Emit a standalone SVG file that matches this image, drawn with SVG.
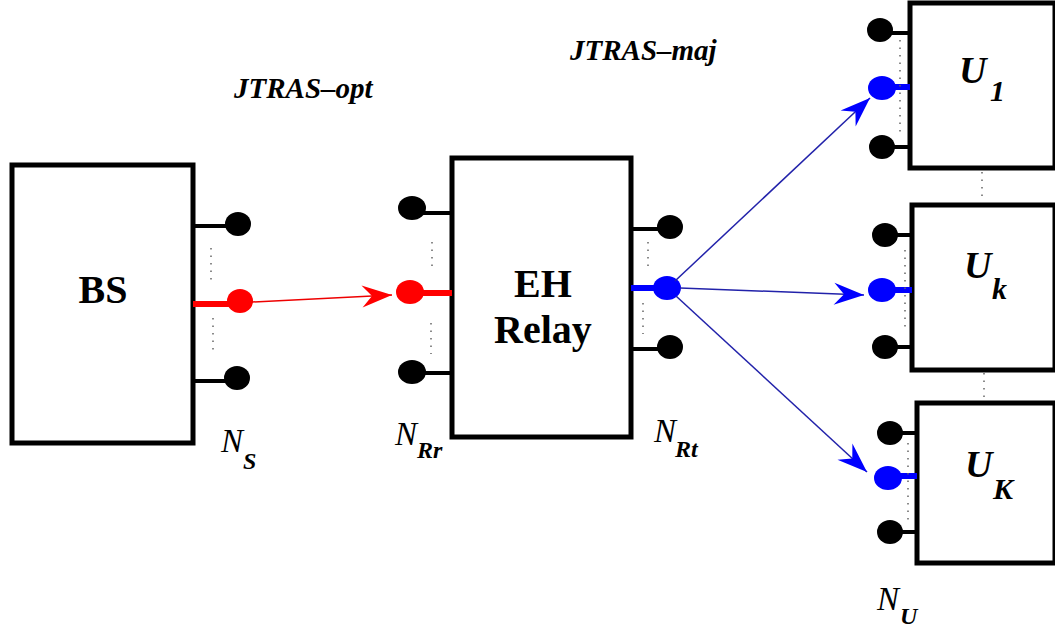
<svg xmlns="http://www.w3.org/2000/svg" width="1055" height="634" viewBox="0 0 1055 634" font-family="Liberation Serif, DejaVu Serif, serif">
<style>
.box{fill:#fff;stroke:#000;stroke-width:5}
.stub{stroke:#000;stroke-width:4}
.dot{fill:#000}
.red{fill:#f00}
.blue{fill:#00f}
.rstub{stroke:#f00;stroke-width:6}
.bstub{stroke:#00f;stroke-width:6}
.dots{stroke:#666;stroke-width:1.5;stroke-dasharray:1.5 6;fill:none}
.title{font-weight:bold;font-size:40px;text-anchor:middle}
.lbl{font-style:italic;font-weight:bold;font-size:29px}
.n{font-style:italic;font-size:33px}
.nsub{font-style:italic;font-weight:bold;font-size:24px}
.u{font-style:italic;font-weight:bold;font-size:38px}
.usub{font-style:italic;font-weight:bold;font-size:30px}
</style>
<defs>
<marker id="ar" markerUnits="userSpaceOnUse" markerWidth="34" markerHeight="26" viewBox="-32 -13 34 26" refX="0" refY="0" orient="auto">
<path d="M0,0 L-30,-11 L-20,0 L-30,11 Z" fill="#f00"/>
</marker>
<marker id="ab" markerUnits="userSpaceOnUse" markerWidth="34" markerHeight="26" viewBox="-32 -13 34 26" refX="0" refY="0" orient="auto">
<path d="M0,0 L-30,-11 L-20,0 L-30,11 Z" fill="#00f"/>
</marker>
</defs>

<g id="bs">
<rect class="box" x="12" y="165" width="181" height="278"/>
<text class="title" x="103" y="303" font-family="Liberation Serif">BS</text>
<line class="stub" x1="193" y1="226" x2="232" y2="226"/>
<ellipse class="dot" cx="238" cy="224" rx="13" ry="12"/>
<line class="rstub" x1="193" y1="304" x2="232" y2="304"/>
<ellipse class="red" cx="240" cy="301" rx="13" ry="12"/>
<line class="stub" x1="193" y1="381" x2="232" y2="381"/>
<ellipse class="dot" cx="237" cy="378" rx="13" ry="12"/>
<line class="dots" x1="211" y1="248" x2="211" y2="282"/>
<line class="dots" x1="213" y1="318" x2="213" y2="354"/>
<text class="n" x="221" y="452">N</text><text class="nsub" x="243" y="469">S</text>
</g>

<g id="relay">
<rect class="box" x="452" y="158" width="179" height="279"/>
<text class="title" x="543" y="297">EH</text>
<text class="title" x="543" y="343">Relay</text>
<line class="stub" x1="412" y1="213" x2="452" y2="213"/>
<ellipse class="dot" cx="412" cy="208" rx="14" ry="12"/>
<line class="rstub" x1="412" y1="293" x2="452" y2="293"/>
<ellipse class="red" cx="410" cy="292" rx="14" ry="12"/>
<line class="stub" x1="412" y1="373" x2="452" y2="373"/>
<ellipse class="dot" cx="412" cy="372" rx="14" ry="12"/>
<line class="dots" x1="432" y1="242" x2="432" y2="270"/>
<line class="dots" x1="431" y1="323" x2="431" y2="354"/>
<line class="stub" x1="631" y1="229" x2="665" y2="229"/>
<ellipse class="dot" cx="670" cy="227" rx="13" ry="12"/>
<line class="bstub" x1="631" y1="288" x2="662" y2="288"/>
<ellipse class="blue" cx="667" cy="288" rx="14" ry="12"/>
<line class="stub" x1="631" y1="349" x2="665" y2="349"/>
<ellipse class="dot" cx="670" cy="347" rx="13" ry="12"/>
<line class="dots" x1="648" y1="242" x2="648" y2="270"/>
<line class="dots" x1="643" y1="303" x2="643" y2="334"/>
<text class="n" x="395" y="445">N</text><text class="nsub" x="417" y="458">Rr</text>
<text class="n" x="654" y="442">N</text><text class="nsub" x="675" y="457">Rt</text>
</g>

<g id="u1">
<rect class="box" x="910" y="3" width="145" height="165"/>
<text class="u" x="959" y="83">U</text><text class="usub" x="990" y="101">1</text>
<line class="stub" x1="885" y1="33" x2="910" y2="33"/>
<ellipse class="dot" cx="880" cy="30" rx="13" ry="12"/>
<line class="bstub" x1="885" y1="87" x2="910" y2="87"/>
<ellipse class="blue" cx="882" cy="88" rx="14" ry="12"/>
<line class="stub" x1="885" y1="147" x2="910" y2="147"/>
<ellipse class="dot" cx="882" cy="147" rx="13" ry="12"/>
<line class="dots" x1="900" y1="40" x2="900" y2="132"/>
</g>

<line class="dots" x1="982" y1="172" x2="982" y2="202"/>

<g id="uk">
<rect class="box" x="912" y="205" width="143" height="165"/>
<text class="u" x="964" y="278">U</text><text class="usub" x="992" y="299">k</text>
<line class="stub" x1="888" y1="235" x2="912" y2="235"/>
<ellipse class="dot" cx="885" cy="235" rx="13" ry="12"/>
<line class="bstub" x1="886" y1="290" x2="912" y2="290"/>
<ellipse class="blue" cx="882" cy="290" rx="14" ry="12"/>
<line class="stub" x1="888" y1="347" x2="912" y2="347"/>
<ellipse class="dot" cx="885" cy="347" rx="13" ry="12"/>
<line class="dots" x1="905" y1="250" x2="905" y2="332"/>
</g>

<line class="dots" x1="984" y1="373" x2="984" y2="401"/>

<g id="uK">
<rect class="box" x="917" y="403" width="138" height="160"/>
<text class="u" x="965" y="477">U</text><text class="usub" x="993" y="499">K</text>
<line class="stub" x1="893" y1="433" x2="917" y2="433"/>
<ellipse class="dot" cx="890" cy="433" rx="13" ry="12"/>
<line class="bstub" x1="892" y1="476" x2="917" y2="476"/>
<ellipse class="blue" cx="888" cy="478" rx="14" ry="12"/>
<line class="stub" x1="893" y1="532" x2="917" y2="532"/>
<ellipse class="dot" cx="890" cy="532" rx="13" ry="12"/>
<line class="dots" x1="908" y1="443" x2="908" y2="522"/>
<text class="n" x="877" y="610">N</text><text class="nsub" x="900" y="624">U</text>
</g>

<g id="labels">
<text class="lbl" x="234" y="98">JTRAS–opt</text>
<text class="lbl" x="570" y="60">JTRAS–maj</text>
</g>

<g id="connectors">
<line x1="252" y1="302" x2="392" y2="295" stroke="#e00" stroke-width="1.5" marker-end="url(#ar)"/>
<line x1="675" y1="281" x2="870" y2="98" stroke="#22a" stroke-width="1.5" marker-end="url(#ab)"/>
<line x1="680" y1="288" x2="864" y2="295" stroke="#22a" stroke-width="1.5" marker-end="url(#ab)"/>
<line x1="676" y1="296" x2="867" y2="472" stroke="#22a" stroke-width="1.5" marker-end="url(#ab)"/>
</g>
</svg>
